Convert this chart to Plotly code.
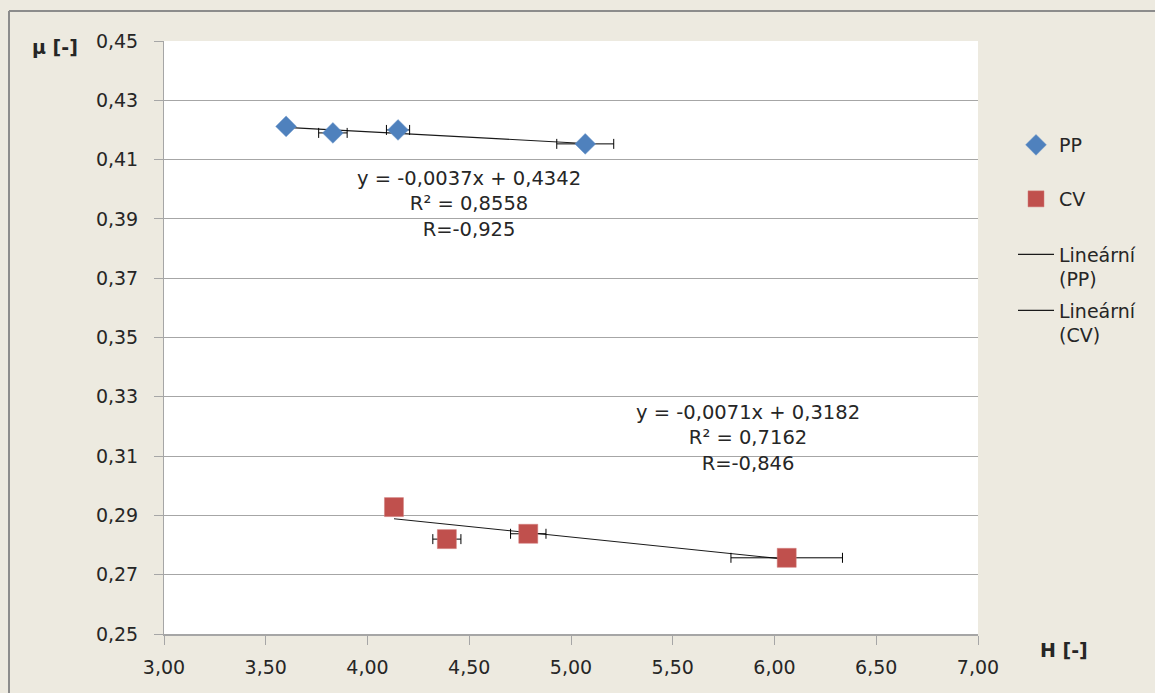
import numpy as np
import plotly.graph_objects as go

# ---- data ----
pp_H = [3.60, 3.83, 4.15, 5.07]
pp_mu = [0.4212, 0.4190, 0.4200, 0.4153]
pp_err = [0.0, 0.07, 0.057, 0.14]

cv_H = [4.13, 4.39, 4.79, 6.06]
cv_mu = [0.2928, 0.2820, 0.2838, 0.2757]
cv_err = [0.0, 0.069, 0.087, 0.274]

pp_fit = (-0.0037, 0.4342)
cv_fit = (-0.0071, 0.3182)

pp_eq = ["y = -0,0037x + 0,4342", "R² = 0,8558", "R=-0,925"]
cv_eq = ["y = -0,0071x + 0,3182", "R² = 0,7162", "R=-0,846"]

x_ticks = [3.0, 3.5, 4.0, 4.5, 5.0, 5.5, 6.0, 6.5, 7.0]
y_ticks = [0.25, 0.27, 0.29, 0.31, 0.33, 0.35, 0.37, 0.39, 0.41, 0.43, 0.45]

BG = "#EDEAE0"
TXT = "#262626"
FONT = "DejaVu Sans, sans-serif"

fig = go.Figure()

# trend lines
def trend(xs, coef):
    xr = np.array([min(xs), max(xs)])
    return xr, coef[0] * xr + coef[1]

tx, ty = trend(pp_H, pp_fit)
fig.add_trace(go.Scatter(x=tx, y=ty, mode="lines", name="Lineární<br>(PP)",
                         line=dict(color="#1A1A1A", width=1.1), legend="legend3"))
tx, ty = trend(cv_H, cv_fit)
fig.add_trace(go.Scatter(x=tx, y=ty, mode="lines", name="Lineární<br>(CV)",
                         line=dict(color="#1A1A1A", width=1.1), legend="legend4"))

fig.add_trace(go.Scatter(
    x=pp_H, y=pp_mu, mode="markers", name="PP", legend="legend",
    marker=dict(symbol="diamond", size=16, color="#4F81BD",
                line=dict(color="#6B96CB", width=0.5)),
    error_x=dict(type="data", array=pp_err, color="#000000", thickness=1, width=5),
))
fig.add_trace(go.Scatter(
    x=cv_H, y=cv_mu, mode="markers", name="CV", legend="legend2",
    marker=dict(symbol="square", size=19, color="#C0504D",
                line=dict(color="#D07A78", width=0.5)),
    error_x=dict(type="data", array=cv_err, color="#000000", thickness=1, width=5),
))

L, R, T, B = 164, 177, 41, 59
W, H = 1155, 693
pw, ph = W - L - R, H - T - B

def px_x(p):
    return (p - L) / pw

def px_y(p):
    return 1 - (p - T) / ph

leg_common = dict(bgcolor="rgba(0,0,0,0)", borderwidth=0,
                  font=dict(family=FONT, size=19, color=TXT),
                  xanchor="left", yanchor="middle", itemwidth=36, valign="top")

fig.update_layout(
    width=W, height=H,
    margin=dict(l=L, r=R, t=T, b=B),
    paper_bgcolor=BG, plot_bgcolor="#FFFFFF",
    separators=", ",
    showlegend=True,
    legend=dict(x=px_x(1013), y=px_y(145), **leg_common),
    legend2=dict(x=px_x(1013), y=px_y(199), **leg_common),
    legend3=dict(x=px_x(1013), y=px_y(267), **leg_common),
    legend4=dict(x=px_x(1013), y=px_y(323), **leg_common),
    xaxis=dict(range=[3, 7], tickvals=x_ticks, tickformat=".2f",
               showgrid=False, zeroline=False,
               showline=True, linecolor="#A6A6A6", linewidth=1.5,
               ticks="outside", ticklen=9, tickcolor="#A6A6A6",
               ticklabelstandoff=6,
               tickfont=dict(family=FONT, size=19, color=TXT)),
    yaxis=dict(range=[0.25, 0.45], tickvals=y_ticks, tickformat=".2f",
               showgrid=True, gridcolor="#A6A6A6", gridwidth=1, zeroline=False,
               showline=True, linecolor="#A6A6A6", linewidth=1,
               ticks="outside", ticklen=9, tickcolor="#A6A6A6",
               ticklabelstandoff=12,
               tickfont=dict(family=FONT, size=19, color=TXT)),
    shapes=[
        dict(type="line", xref="paper", yref="paper",
             x0=px_x(9), x1=px_x(9), y0=px_y(11), y1=px_y(700),
             line=dict(color="#8C8C8C", width=2), layer="below"),
        dict(type="line", xref="paper", yref="paper",
             x0=px_x(9), x1=px_x(1160), y0=px_y(11), y1=px_y(11),
             line=dict(color="#8C8C8C", width=2), layer="below"),
    ],
    annotations=[
        dict(text="<b>μ [-]</b>", xref="paper", yref="paper", x=px_x(55), y=px_y(47),
             xanchor="center", yanchor="middle",
             showarrow=False, font=dict(family=FONT, size=19, color=TXT)),
        dict(text="<b>H [-]</b>", xref="paper", yref="paper", x=px_x(1064), y=px_y(650),
             xanchor="center", yanchor="middle",
             showarrow=False, font=dict(family=FONT, size=19, color=TXT)),
        dict(text="<br>".join(pp_eq), xref="x", yref="y", x=4.50, y=0.395,
             showarrow=False, align="center",
             font=dict(family=FONT, size=19.5, color=TXT)),
        dict(text="<br>".join(cv_eq), xref="x", yref="y", x=5.87, y=0.3161,
             showarrow=False, align="center",
             font=dict(family=FONT, size=19.5, color=TXT)),
    ],
)

fig.write_html("out.html", config={"displayModeBar": False},
               post_script="document.body.style.margin='0';document.body.style.overflow='hidden';")
